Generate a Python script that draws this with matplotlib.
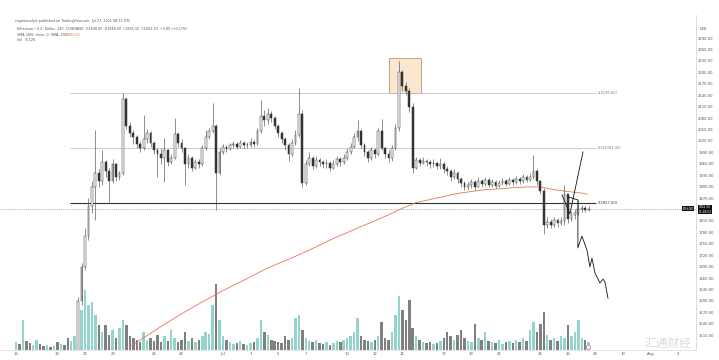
import numpy as np
import matplotlib.pyplot as plt
from matplotlib.patches import Rectangle

# 6h candles, x in days from Jul 1 00:00
first_day = -15.0
step_day = 0.25
first_open = 1395

closes = [
    1400, 1392, 1410, 1385, 1372, 1398, 1420, 1405, 1390, 1430, 1415, 1440, 1425, 1450, 1436, 1420, 1445,
    1455, 1600, 1690, 1770, 1850, 1900, 1935, 1915, 1965, 1940, 1915, 1960, 1925, 1935, 2130, 2060, 2040,
    2030, 2012, 2000, 2025, 2040, 2015, 1995, 1985, 1975, 1995, 1965, 1975, 2038, 2015, 2000, 1960, 1975,
    1950, 1965, 1960, 2000, 2030, 2045, 2060, 1935, 1990, 2005, 1998, 2008, 2012, 2005, 2015, 2008, 2010,
    2018, 2012, 2045, 2085, 2075, 2090, 2080, 2060, 2040, 2025, 2010, 1985, 2015, 2035, 2090, 1910, 1960,
    1975, 1955, 1970, 1965, 1958, 1962, 1950, 1960, 1972, 1965, 1975, 1990, 2005, 2030, 2045, 2010, 1990,
    1975, 1995, 1985, 2045, 2000, 1985, 1975, 2000, 2055, 2200, 2165, 2150, 2110, 1950, 1970, 1962, 1968,
    1965, 1958, 1962, 1955, 1960, 1945, 1940, 1925, 1935, 1920, 1910, 1898, 1905, 1912, 1900, 1915, 1908,
    1918, 1905, 1912, 1902, 1910, 1915, 1908, 1918, 1912, 1920, 1915, 1925, 1918, 1925, 1940, 1915, 1888,
    1800, 1808, 1800, 1812, 1805, 1810, 1880, 1815, 1825, 1830, 1840, 1845, 1838, 1841,
]
highs = [
    1412, 1408, 1420, 1410, 1390, 1405, 1430, 1425, 1410, 1440, 1435, 1452, 1445, 1460, 1455, 1440, 1455,
    1470, 1610, 1700, 1790, 1870, 1915, 2048, 1945, 1996, 1970, 1950, 1972, 1962, 1942, 2146, 2135, 2070,
    2048, 2035, 2020, 2088, 2050, 2045, 2020, 2000, 2000, 2028, 1998, 1985, 2080, 2042, 2025, 2005, 1985,
    1980, 1972, 1972, 2010, 2048, 2055, 2120, 2065, 2000, 2012, 2010, 2015, 2020, 2018, 2022, 2020, 2018,
    2028, 2022, 2055, 2127, 2100, 2105, 2098, 2085, 2065, 2045, 2030, 2015, 2025, 2048, 2159, 2100, 1970,
    1990, 1980, 1980, 1975, 1970, 1972, 1968, 1970, 1980, 1978, 1985, 2000, 2015, 2040, 2075, 2050, 2015,
    1995, 2005, 2000, 2055, 2078, 2005, 1995, 2010, 2065, 2230, 2205, 2175, 2160, 2120, 1978, 1975, 1978,
    1972, 1970, 1972, 1965, 1975, 1965, 1955, 1945, 1945, 1940, 1925, 1915, 1912, 1920, 1918, 1925, 1920,
    1925, 1922, 1920, 1918, 1918, 1922, 1920, 1925, 1922, 1928, 1925, 1932, 1930, 1935, 1983, 1945, 1918,
    1895, 1820, 1815, 1820, 1818, 1820, 1904, 1880, 1835, 1840, 1865, 1852, 1850, 1848,
]
lows = [
    1385, 1380, 1388, 1375, 1362, 1368, 1392, 1398, 1382, 1385, 1410, 1412, 1418, 1420, 1430, 1415, 1418,
    1440, 1450, 1590, 1680, 1760, 1830, 1812, 1900, 1905, 1925, 1860, 1910, 1915, 1918, 1930, 2050, 2030,
    2012, 2000, 1990, 1995, 2015, 2005, 1985, 1925, 1960, 1912, 1955, 1960, 1972, 2005, 1990, 1904, 1950,
    1940, 1945, 1950, 1955, 1995, 2025, 2040, 1838, 1930, 1985, 1990, 1995, 2000, 1998, 2002, 2000, 2000,
    2005, 2005, 2010, 2040, 2060, 2065, 2070, 2050, 2030, 2015, 1995, 1968, 1980, 2010, 2030, 1900, 1905,
    1955, 1945, 1950, 1955, 1948, 1950, 1940, 1945, 1955, 1955, 1960, 1970, 1985, 2000, 2020, 2000, 1980,
    1965, 1970, 1975, 1980, 1995, 1975, 1965, 1968, 1995, 2045, 2150, 2140, 2095, 1935, 1945, 1955, 1958,
    1955, 1950, 1952, 1945, 1945, 1935, 1930, 1915, 1920, 1910, 1900, 1890, 1892, 1895, 1892, 1898, 1900,
    1902, 1898, 1900, 1895, 1898, 1905, 1902, 1905, 1905, 1908, 1908, 1910, 1912, 1915, 1920, 1905, 1880,
    1775, 1790, 1792, 1795, 1795, 1798, 1800, 1805, 1810, 1815, 1825, 1832, 1832, 1835,
]
# volume, thousands
volumes = [
    8, 6, 30, 9, 7, 5, 10, 6, 4, 5, 3, 4, 8, 6, 5, 12, 9,
    14, 22, 40, 60, 45, 48, 35, 25, 18, 25, 15, 20, 12, 22, 30, 25, 14,
    12, 10, 8, 18, 10, 12, 9, 15, 8, 14, 9, 20, 12, 8, 10, 18, 9,
    12, 8, 10, 14, 18, 16, 45, 66, 30, 14, 10, 8, 6, 7, 9, 6, 5,
    7, 8, 12, 30, 18, 15, 10, 9, 8, 7, 14, 10, 12, 32, 35, 20, 12,
    9, 8, 10, 7, 6, 8, 5, 7, 9, 8, 10, 12, 14, 18, 32, 14, 10,
    9, 8, 10, 14, 28, 12, 10, 18, 35, 54, 40, 30, 50, 22, 14, 10, 8,
    7, 8, 6, 7, 9, 12, 18, 14, 10, 15, 20, 12, 9, 8, 26, 12, 10,
    18, 9, 8, 7, 10, 6, 8, 9, 7, 10, 8, 12, 9, 20, 28, 18, 26,
    38, 15, 10, 12, 9, 14, 12, 25, 14, 18, 30, 12, 10, 8,
]

# SMA 200
ma_days = [-6.75, -6, -5, -4, -3, -2, -1, 0, 1, 2, 3, 4, 5, 6, 7, 8, 9, 10, 11, 12,
           13, 14, 15, 16, 17, 18, 19, 20, 21, 22, 23, 24, 25, 26, 26.4]
ma_values = [1479, 1497, 1521, 1544, 1566, 1587, 1607, 1627, 1645, 1663, 1682, 1698, 1713, 1729,
             1746, 1764, 1779, 1795, 1810, 1826, 1843, 1858, 1866, 1874, 1882, 1887, 1892, 1894,
             1897, 1899, 1899, 1892, 1887, 1883, 1880]

# fib retracement
fib_top = 2145.6
fib_bottom = 1857.0
fib_start, fib_end = -11.1, 27.0

# drawn projections
up_days = [24.57, 25.14, 26.09]
up_prices = [1878, 1828, 1991]
down_days = [25.0, 25.72, 25.72, 26.01, 26.38, 26.59, 26.74, 26.96, 27.32, 27.54, 27.68, 27.9]
down_prices = [1873, 1865, 1739, 1770, 1733, 1689, 1712, 1673, 1647, 1657, 1650, 1607]

tick_days = [-15, -12, -10, -8, -5, -3, 0, 2, 4, 6, 9, 11, 13, 16, 18, 20, 23, 25, 27, 29, 31, 33]
tick_labels = ['16', '19', '21', '23', '26', '28', 'Jul', '3', '5', '7', '10', '12', '14',
               '17', '19', '21', '24', '26', '28', '30', 'Aug', '3']

W, H = 719, 360
xmin, xmax = -16.16, 34.28
ymin, ymax = 1471.0, 2350.4

fig = plt.figure(figsize=(W / 100, H / 100), dpi=100)

ax_vol = fig.add_axes([0, 10 / H, 696 / W, 80 / H])
ax = fig.add_axes([0, 10 / H, 696 / W, 335 / H])
ax.set_facecolor('none')

n = len(closes)
days = first_day + step_day * np.arange(n)
opens = np.array([first_open] + closes[:-1], dtype=float)
c = np.array(closes, dtype=float)
hi = np.maximum(np.array(highs, float), np.maximum(opens, c))
lo = np.minimum(np.array(lows, float), np.minimum(opens, c))
up = c >= opens

# volume
vol_colors = np.where(up, '#93d5cd', '#808080')
ax_vol.bar(days, volumes, width=0.18, color=vol_colors, linewidth=0)
ax_vol.set_xlim(xmin, xmax)
ax_vol.set_ylim(0, 80)
ax_vol.axis('off')
ax_vol.scatter([26.45], [3.5], s=9, facecolor='white', edgecolor='#d9729f', linewidth=0.6, zorder=3)

# candles
ax.vlines(days, lo, hi, color='#3a3a3a', linewidth=0.4, zorder=3)
body_h = np.maximum(np.abs(c - opens), 1.5)
ax.bar(days, body_h, bottom=np.minimum(opens, c), width=0.13,
       color=np.where(up, 'white', '#333333'), edgecolor='#333333', linewidth=0.35, zorder=4)

# sma
ax.plot(ma_days, ma_values, color='#e8735a', linewidth=0.6, zorder=2)

# fib levels
fib_colors = {1.0: '#c4c4c4', 0.5: '#c4c4c4', 0.0: '#333333'}
for lvl in [1.0, 0.5, 0.0]:
    p = fib_bottom + lvl * (fib_top - fib_bottom)
    ax.hlines(p, fib_start, fib_end, color=fib_colors[lvl], linewidth=0.6 if lvl else 0.8, zorder=1)
    ax.text(fib_end + 0.15, p, f'{lvl:g}({p:.2f})', fontsize=2.6, va='center', ha='left',
            color='#777777' if lvl else '#333333')

# current price line
last = closes[-1]
ax.axhline(last, color='#9a9a9a', linewidth=0.6, linestyle=(0, (1, 1.2)), zorder=1)

# highlight box at the top
ax.add_patch(Rectangle((12.03, 2145.6), 2.32, 92, facecolor='#fbe7cf', edgecolor='#b89572',
                       linewidth=0.6, zorder=0))

# projections
ax.plot(up_days, up_prices, color='#111111', linewidth=0.6, zorder=5)
ax.plot(down_days, down_prices, color='#111111', linewidth=0.6, zorder=5)

ax.set_xlim(xmin, xmax)
ax.set_ylim(ymin, ymax)
ax.yaxis.tick_right()
yt = list(range(1510, 2291, 30))
ax.set_yticks(yt)
# the last price box covers the scale label next to it
ax.set_yticklabels(['' if abs(v - last) < 12 else f'{v:.2f}' for v in yt])
ax.set_xticks(tick_days)
ax.set_xticklabels(tick_labels)
ax.tick_params(axis='both', length=0, labelsize=2.7, colors='#555555')
ax.tick_params(axis='y', pad=1.5)
ax.tick_params(axis='x', pad=1.2)
for s in ['top', 'left']:
    ax.spines[s].set_visible(False)
ax.spines['right'].set_color('#d6d6d6')
ax.spines['bottom'].set_color('#e0e0e0')
ax.spines['right'].set_linewidth(0.6)
ax.spines['bottom'].set_linewidth(0.6)

# header
fig.text(15 / W, 1 - 21 / H, 'cryptoanalyst published on TradingView.com, Jul 27, 2021 08:11 UTC',
         fontsize=2.4, color='#555555', va='center')
fig.text(17 / W, 1 - 29 / H, 'Ethereum / U.S. Dollar, 240, COINBASE  O1838.05  H1848.00  L1835.10  C1841.10  +3.05 (+0.17%)',
         fontsize=2.4, color='#555555', va='center')
fig.text(17 / W, 1 - 34.5 / H, 'SMA (200, close, 0, SMA, 200)', fontsize=2.4, color='#555555', va='center')
fig.text(67 / W, 1 - 34.5 / H, '1880.42', fontsize=2.4, color='#e8735a', va='center')
fig.text(17 / W, 1 - 40 / H, 'Vol   8.12K', fontsize=2.4, color='#555555', va='center')
fig.text(704 / W, 1 - 29 / H, 'USD', fontsize=2.5, color='#555555', ha='center', va='center')

# price labels
fig.text(705 / W, 1 - 209.5 / H, f'{last:.2f}\n01:48:52', fontsize=2.1, color='white', ha='center',
         va='center', linespacing=1.1,
         bbox=dict(boxstyle='square,pad=0.2', facecolor='#111111', edgecolor='none'))
fig.text(688 / W, 1 - 208.5 / H, 'ETHUSD', fontsize=2.0, color='white', ha='center', va='center',
         bbox=dict(boxstyle='square,pad=0.15', facecolor='#111111', edgecolor='none'))

# watermark
fig.text(668 / W, 1 - 343 / H, '汇通财经', fontsize=8.5, color='#dadada', ha='center', va='center',
         family=['Noto Sans CJK SC', 'DejaVu Sans'])

fig.savefig('out.png', dpi=100)
